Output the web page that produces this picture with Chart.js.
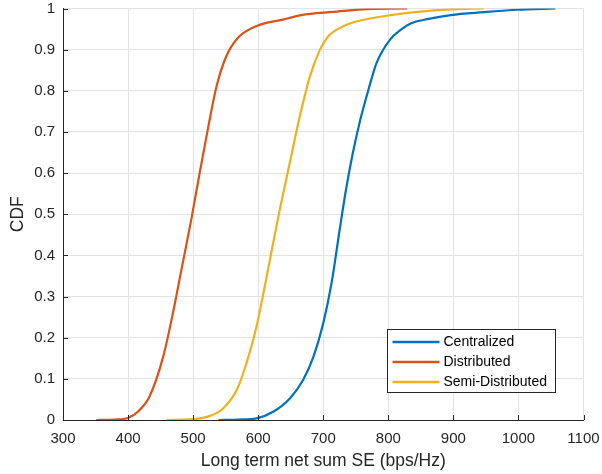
<!DOCTYPE html>
<html>
<head>
<meta charset="utf-8">
<script src="https://cdn.jsdelivr.net/npm/chart.js@4"></script>
<style>
  html, body { margin: 0; padding: 0; background: #fff; }
  #wrap { width: 602px; height: 474px; }
</style>
</head>
<body>
<div id="wrap"><canvas id="cdf-chart" width="602" height="474"></canvas></div>
<script>
// values
const seriesNames = ["Centralized", "Distributed", "Semi-Distributed"];
const seriesColors = ["#0072BD", "#D95319", "#EDB120"];

const centralizedX = [539, 570, 597.5, 623, 649, 669, 685, 700, 713, 725, 735, 745, 757, 769, 782, 803, 819, 835, 860, 896, 947, 998, 1057];
const centralizedY = [0, 0.001, 0.004, 0.02, 0.053, 0.097, 0.154, 0.235, 0.335, 0.46, 0.56, 0.645, 0.73, 0.8, 0.868, 0.925, 0.948, 0.964, 0.974, 0.984, 0.991, 0.997, 1.0];

const distributedX = [351, 380, 400, 415, 433, 454, 469, 482, 497.5, 510, 523, 536, 551, 569, 597, 638, 666, 716, 760, 829];
const distributedY = [0, 0.001, 0.005, 0.02, 0.057, 0.154, 0.26, 0.365, 0.49, 0.6, 0.71, 0.811, 0.884, 0.929, 0.957, 0.973, 0.984, 0.992, 0.998, 1.0];

const semiX = [459, 500, 526, 546, 567, 582, 597.5, 610, 623, 633, 649, 664, 679.5, 695, 708, 720, 742, 770, 800, 845, 896, 947];
const semiY = [0, 0.002, 0.01, 0.028, 0.073, 0.138, 0.227, 0.324, 0.43, 0.51, 0.628, 0.738, 0.835, 0.9, 0.933, 0.948, 0.964, 0.975, 0.983, 0.992, 0.998, 1.0];

const xTicks = [300, 400, 500, 600, 700, 800, 900, 1000, 1100];
const yTicks = [0, 0.1, 0.2, 0.3, 0.4, 0.5, 0.6, 0.7, 0.8, 0.9, 1];

const textColor = "#262626";
const gridColor = "#e3e3e3";
const fontFamily = "'Liberation Sans', Arial, Helvetica, sans-serif";

function toPoints(xs, ys) {
    return xs.map((x, i) => ({ x: x, y: ys[i] }));
}

const allX = [centralizedX, distributedX, semiX];
const allY = [centralizedY, distributedY, semiY];

const datasets = seriesNames.map((name, i) => ({
    label: name,
    data: toPoints(allX[i], allY[i]),
    borderColor: seriesColors[i],
    backgroundColor: seriesColors[i],
    borderWidth: 2.2,
    pointRadius: 0,
    fill: false,
    cubicInterpolationMode: "monotone",
}));

// small inward tick marks like the original axes
const innerTicks = {
    id: "innerTicks",
    afterDraw(chart) {
        const ctx = chart.ctx;
        const area = chart.chartArea;
        const xs = chart.scales.x;
        const ys = chart.scales.y;
        ctx.save();
        ctx.strokeStyle = textColor;
        ctx.lineWidth = 1;
        ctx.beginPath();
        xTicks.forEach(v => {
            const px = Math.round(xs.getPixelForValue(v)) + 0.5;
            ctx.moveTo(px, area.bottom);
            ctx.lineTo(px, area.bottom - 5);
        });
        yTicks.forEach(v => {
            const py = Math.round(ys.getPixelForValue(v)) + 0.5;
            ctx.moveTo(area.left, py);
            ctx.lineTo(area.left + 5, py);
        });
        ctx.stroke();
        ctx.restore();
    }
};

// legend box in the lower right corner
const boxLegend = {
    id: "boxLegend",
    afterDraw(chart) {
        const ctx = chart.ctx;
        const left = 387.5, top = 329.5, w = 168, h = 63;
        ctx.save();
        ctx.fillStyle = "#fff";
        ctx.fillRect(left, top, w, h);
        ctx.strokeStyle = textColor;
        ctx.lineWidth = 1;
        ctx.strokeRect(left, top, w, h);
        ctx.font = "14px " + fontFamily;
        ctx.textBaseline = "middle";
        ctx.textAlign = "left";
        chart.data.datasets.forEach((ds, i) => {
            const y = top + 12.5 + i * 20;
            ctx.strokeStyle = ds.borderColor;
            ctx.lineWidth = 2.5;
            ctx.beginPath();
            ctx.moveTo(left + 5, y);
            ctx.lineTo(left + 52, y);
            ctx.stroke();
            ctx.fillStyle = "#000";
            ctx.fillText(ds.label, left + 56, y);
        });
        ctx.restore();
    }
};

const whiteBg = {
    id: "whiteBg",
    beforeDraw(chart) {
        const ctx = chart.ctx;
        ctx.save();
        ctx.fillStyle = "#fff";
        ctx.fillRect(0, 0, chart.width, chart.height);
        ctx.restore();
    }
};

const ctxCdf = document.getElementById("cdf-chart").getContext("2d");

const cdfChart = new Chart(ctxCdf, {
    type: "line",
    data: { datasets: datasets },
    options: {
        responsive: false,
        animation: false,
        layout: { padding: { top: 8.5, right: 18.5, left: 0, bottom: 0 } },
        plugins: {
            legend: { display: false },
            tooltip: { enabled: false },
        },
        scales: {
            x: {
                type: "linear",
                min: 300,
                max: 1100,
                afterFit(scale) {
                    scale.height = 54;
                    scale.paddingLeft = 0;
                    scale.paddingRight = 0;
                },
                afterBuildTicks(scale) { scale.ticks = xTicks.map(v => ({ value: v })); },
                grid: { color: gridColor, drawTicks: false, lineWidth: 1 },
                border: { color: textColor, width: 1 },
                ticks: {
                    color: textColor,
                    padding: 10,
                    maxRotation: 0,
                    font: { family: fontFamily, size: 15 },
                    callback: v => String(v),
                },
                title: {
                    display: true,
                    text: "Long term net sum SE (bps/Hz)",
                    color: textColor,
                    font: { family: fontFamily, size: 17.5 },
                    padding: { top: 0, bottom: 2 },
                },
            },
            y: {
                type: "linear",
                min: 0,
                max: 1,
                afterFit(scale) {
                    scale.width = 63;
                    scale.paddingTop = 0;
                    scale.paddingBottom = 0;
                },
                afterBuildTicks(scale) { scale.ticks = yTicks.map(v => ({ value: v })); },
                grid: { color: gridColor, drawTicks: false, lineWidth: 1 },
                border: { color: textColor, width: 1 },
                ticks: {
                    color: textColor,
                    padding: 8,
                    font: { family: fontFamily, size: 15 },
                    callback: v => String(v),
                },
                title: {
                    display: true,
                    text: "CDF",
                    color: textColor,
                    font: { family: fontFamily, size: 17.5 },
                    padding: { top: 8, bottom: 0 },
                },
            },
        },
    },
    plugins: [whiteBg, innerTicks, boxLegend],
});
</script>
</body>
</html>
